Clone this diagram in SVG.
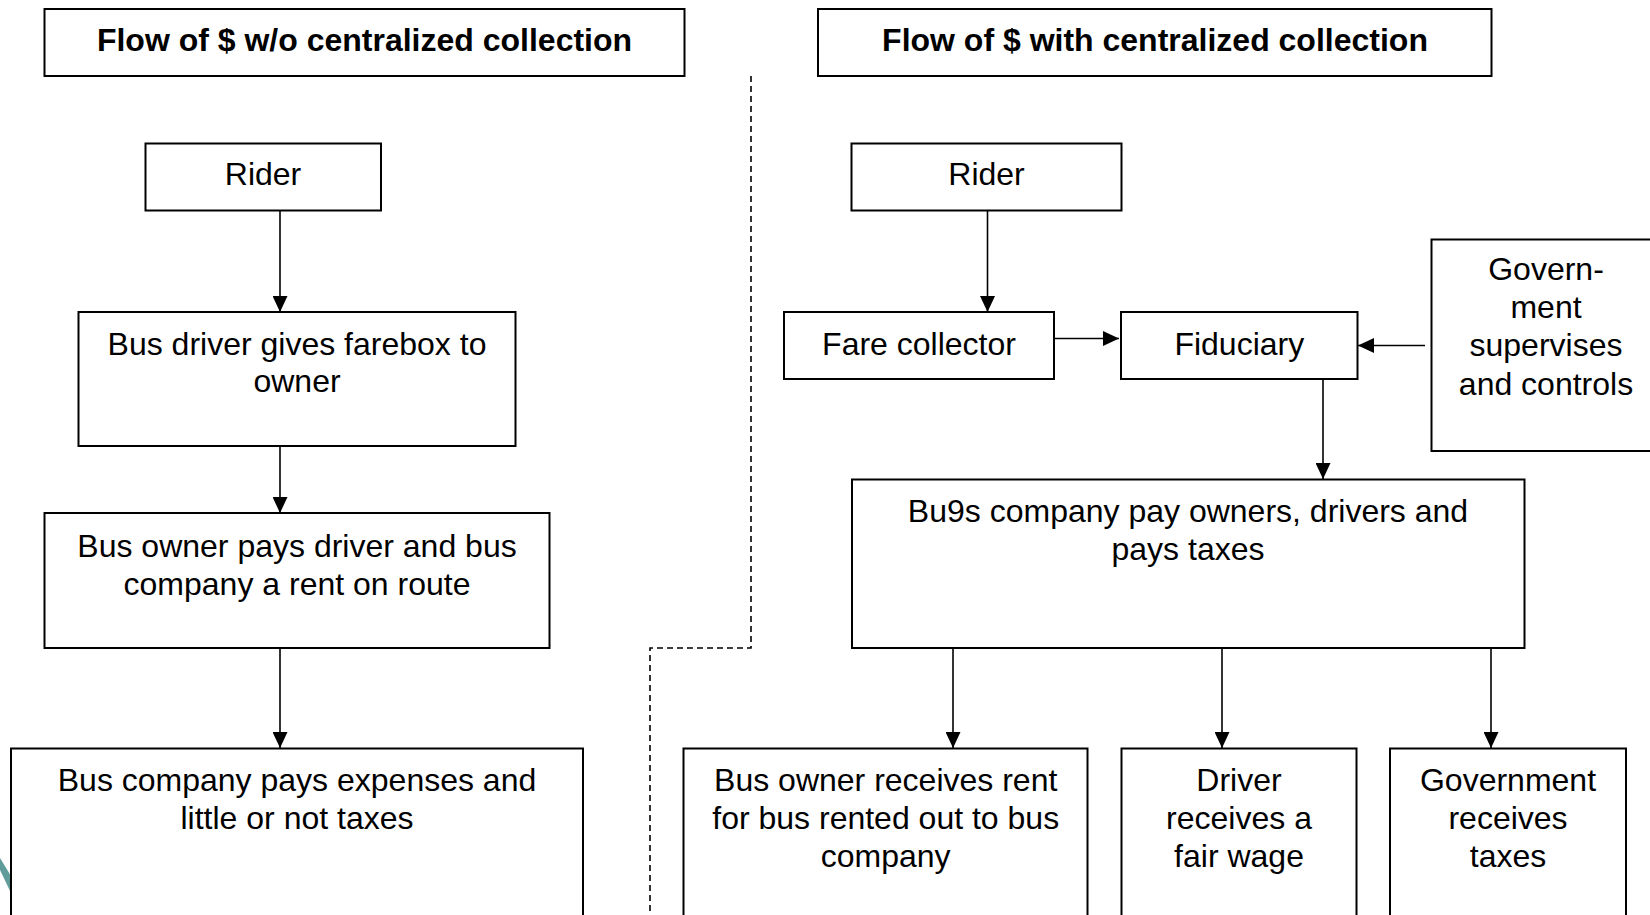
<svg xmlns="http://www.w3.org/2000/svg" width="1650" height="915" viewBox="0 0 1650 915">
<style>
.box{fill:#fff;stroke:#000;stroke-width:2}
.t{font-family:"Liberation Sans",Arial,sans-serif;font-size:32px;fill:#000;text-anchor:middle}
.b{font-weight:bold}
.c{stroke:#000;stroke-width:1.6;fill:none;marker-end:url(#ah)}
.d{stroke:#000;stroke-width:1.6;fill:none;stroke-dasharray:6,4}
</style>
<defs>
<marker id="ah" markerUnits="userSpaceOnUse" markerWidth="16" markerHeight="15" refX="16" refY="7.5" orient="auto">
<path d="M0,0 L16,7.5 L0,15 z" fill="#000"/>
</marker>
</defs>
<rect width="1650" height="915" fill="#fff"/>
<polygon points="0,858 11,876 11,893 0,870" fill="#609c99"/>
<g id="connectors">
<path class="d" d="M751,76 V648 H650 V915"/>
<line class="c" x1="280" y1="211" x2="280" y2="312"/>
<line class="c" x1="280" y1="446" x2="280" y2="513"/>
<line class="c" x1="280" y1="648" x2="280" y2="748"/>
<line class="c" x1="987.5" y1="211" x2="987.5" y2="312"/>
<line class="c" x1="1054" y1="338.5" x2="1119" y2="338.5"/>
<line class="c" x1="1425" y1="345.5" x2="1358" y2="345.5"/>
<line class="c" x1="1323" y1="379" x2="1323" y2="479"/>
<line class="c" x1="953" y1="648" x2="953" y2="748"/>
<line class="c" x1="1222" y1="648" x2="1222" y2="748"/>
<line class="c" x1="1491" y1="648" x2="1491" y2="748"/>
</g>
<g id="title-left"><rect class="box" x="44.5" y="9" width="640" height="67"/><text class="t b" x="364.5" y="51">Flow of $ w/o centralized collection</text></g>
<g id="rider-left"><rect class="box" x="145.5" y="143.5" width="235.5" height="67"/><text class="t" x="263" y="185">Rider</text></g>
<g id="busdriver"><rect class="box" x="78.5" y="312" width="437" height="134"/><text class="t" x="297" y="354.5">Bus driver gives farebox to</text><text class="t" x="297" y="392">owner</text></g>
<g id="busowner-left"><rect class="box" x="44.5" y="513" width="505" height="135"/><text class="t" x="297" y="557">Bus owner pays driver and bus</text><text class="t" x="297" y="594.5">company a rent on route</text></g>
<g id="buscompany-left"><rect class="box" x="11" y="748.5" width="572" height="180"/><text class="t" x="297" y="791">Bus company pays expenses and</text><text class="t" x="297" y="828.5">little or not taxes</text></g>
<g id="title-right"><rect class="box" x="818" y="9" width="673.5" height="67"/><text class="t b" x="1155" y="51">Flow of $ with centralized collection</text></g>
<g id="rider-right"><rect class="box" x="851.5" y="143.5" width="270" height="67"/><text class="t" x="986.5" y="185">Rider</text></g>
<g id="farecollector"><rect class="box" x="784" y="312" width="270" height="67"/><text class="t" x="919" y="354.5">Fare collector</text></g>
<g id="fiduciary"><rect class="box" x="1121" y="312" width="236.5" height="67"/><text class="t" x="1239.3" y="354.5">Fiduciary</text></g>
<g id="government-supervises"><rect class="box" x="1431.5" y="239.5" width="230" height="211.5"/><text class="t" x="1546" y="279.5">Govern-</text><text class="t" x="1546" y="317.5">ment</text><text class="t" x="1546" y="356">supervises</text><text class="t" x="1546" y="394.5">and controls</text></g>
<g id="buscompany-right"><rect class="box" x="852" y="479.5" width="672.5" height="168.5"/><text class="t" x="1188" y="522">Bu9s company pay owners, drivers and</text><text class="t" x="1188" y="560">pays taxes</text></g>
<g id="busowner-right"><rect class="box" x="683.5" y="748.5" width="404" height="180"/><text class="t" x="885.7" y="791">Bus owner receives rent</text><text class="t" x="885.7" y="829">for bus rented out to bus</text><text class="t" x="885.7" y="867">company</text></g>
<g id="driver"><rect class="box" x="1121.5" y="748.5" width="235" height="180"/><text class="t" x="1239" y="791">Driver</text><text class="t" x="1239" y="829">receives a</text><text class="t" x="1239" y="867">fair wage</text></g>
<g id="government-receives"><rect class="box" x="1390" y="748.5" width="236" height="180"/><text class="t" x="1508" y="791">Government</text><text class="t" x="1508" y="829">receives</text><text class="t" x="1508" y="867">taxes</text></g>
</svg>
